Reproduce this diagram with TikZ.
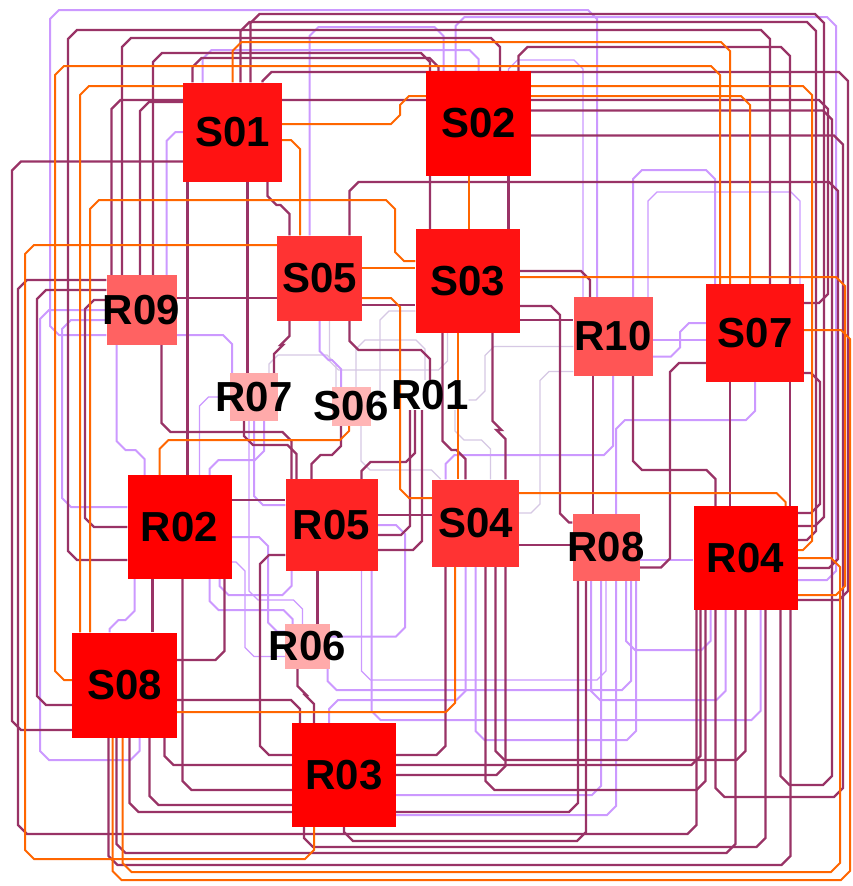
\documentclass[tikz,border=0pt]{standalone}
\usepackage{fontspec}
\setmainfont{Liberation Sans}
\usetikzlibrary{calc}
\pgfdeclarelayer{back}
\pgfdeclarelayer{lines}
\pgfsetlayers{back,lines,main}
\definecolor{mgc}{HTML}{993366}
\definecolor{orc}{HTML}{FF6600}
\definecolor{lpc}{HTML}{CC99FF}
\definecolor{grc}{HTML}{D6C8E4}
\definecolor{cA}{HTML}{FF0000}
\definecolor{cB}{HTML}{FF1212}
\definecolor{cC}{HTML}{FF2424}
\definecolor{cD}{HTML}{FF3333}
\definecolor{cE}{HTML}{FF5555}
\definecolor{cF}{HTML}{FF6262}
\definecolor{cG}{HTML}{FFAAAA}
\definecolor{cH}{HTML}{FFB5B5}
\tikzset{
  lnM/.style={draw=mgc,line width=2.3pt},
  lnO/.style={draw=orc,line width=2pt},
  lnP/.style={draw=lpc,line width=2pt},
  lnPt/.style={draw=lpc,line width=1.3pt},
  lnG/.style={draw=grc,line width=1.2pt},
  nbox/.style={draw=none,inner sep=0pt,minimum size=#1},
  lbl/.style={font=\fontsize{42}{42}\selectfont\bfseries,inner sep=0pt,text=black},
}
\newcommand\chd{9pt}
% vertical - horizontal - vertical
\newcommand\cVHV[4]{%
  \path #2 coordinate (q0) #4 coordinate (q3);
  \path (q0 |- 0,#3) coordinate (q1) (q3 |- 0,#3) coordinate (q2);
  \draw[#1] (q0) -- ($(q1)!\chd!(q0)$) -- ($(q1)!\chd!(q2)$) -- ($(q2)!\chd!(q1)$) -- ($(q2)!\chd!(q3)$) -- (q3);}
% horizontal - vertical - horizontal
\newcommand\cHVH[4]{%
  \path #2 coordinate (q0) #4 coordinate (q3);
  \path (#3,0 |- q0) coordinate (q1) (#3,0 |- q3) coordinate (q2);
  \draw[#1] (q0) -- ($(q1)!\chd!(q0)$) -- ($(q1)!\chd!(q2)$) -- ($(q2)!\chd!(q1)$) -- ($(q2)!\chd!(q3)$) -- (q3);}
% vertical then horizontal
\newcommand\cVH[3]{%
  \path #2 coordinate (q0) #3 coordinate (q3);
  \path (q0 |- q3) coordinate (q1);
  \draw[#1] (q0) -- ($(q1)!\chd!(q0)$) -- ($(q1)!\chd!(q3)$) -- (q3);}
% horizontal then vertical
\newcommand\cHV[3]{%
  \path #2 coordinate (q0) #3 coordinate (q3);
  \path (q3 |- q0) coordinate (q1);
  \draw[#1] (q0) -- ($(q1)!\chd!(q0)$) -- ($(q1)!\chd!(q3)$) -- (q3);}
% V to y, H to x, V, H into end
\newcommand\cVHVH[5]{%
  \path #2 coordinate (q0) #5 coordinate (q4);
  \path (q0 |- 0,#3) coordinate (q1) (#4,#3) coordinate (q2) (#4,0 |- q4) coordinate (q3);
  \draw[#1] (q0) -- ($(q1)!\chd!(q0)$) -- ($(q1)!\chd!(q2)$) -- ($(q2)!\chd!(q1)$) -- ($(q2)!\chd!(q3)$) -- ($(q3)!\chd!(q2)$) -- ($(q3)!\chd!(q4)$) -- (q4);}
% H to x, V to y, H, V into end
\newcommand\cHVHV[5]{%
  \path #2 coordinate (q0) #5 coordinate (q4);
  \path (#3,0 |- q0) coordinate (q1) (#3,#4) coordinate (q2) (q4 |- 0,#4) coordinate (q3);
  \draw[#1] (q0) -- ($(q1)!\chd!(q0)$) -- ($(q1)!\chd!(q2)$) -- ($(q2)!\chd!(q1)$) -- ($(q2)!\chd!(q3)$) -- ($(q3)!\chd!(q2)$) -- ($(q3)!\chd!(q4)$) -- (q4);}
\begin{document}
\begin{tikzpicture}[x=1pt,y=-1pt]
\useasboundingbox (0,0) rectangle (853,886);
\begin{pgfonlayer}{back}
\fill[white] (0,0) rectangle (853,886);
\end{pgfonlayer}
% ---------------- nodes ----------------
\node[nbox=99pt,fill=cB,label={[lbl]center:S01}] (S01) at (232.5,132) {};
\node[nbox=105pt,fill=cA,label={[lbl]center:S02}] (S02) at (478.5,123.5) {};
\node[nbox=104pt,fill=cB,label={[lbl]center:S03}] (S03) at (467.5,281) {};
\node[nbox=85pt,fill=cD,label={[lbl]center:S05}] (S05) at (319.5,278) {};
\node[nbox=70pt,fill=cF,label={[lbl]center:R09}] (R09) at (141.5,310) {};
\node[nbox=79pt,fill=cE,label={[lbl]center:R10}] (R10) at (613,336.5) {};
\node[nbox=98pt,fill=cB,label={[lbl]center:S07}] (S07) at (755,333) {};
\node[nbox=48pt,fill=cG,label={[lbl]center:R07}] (R07) at (254,397) {};
\node[nbox=39pt,fill=cH,label={[lbl]center:S06}] (S06) at (351,406.5) {};
\node[lbl] (R01) at (430,395) {R01};
\node[nbox=104pt,fill=cA,label={[lbl]center:R02}] (R02) at (179.5,527) {};
\node[nbox=92pt,fill=cC,label={[lbl]center:R05}] (R05) at (331.5,525) {};
\node[nbox=87pt,fill=cD,label={[lbl]center:S04}] (S04) at (475.5,523) {};
\node[nbox=67pt,fill=cF,label={[lbl]center:R08}] (R08) at (606,547.5) {};
\node[nbox=104pt,fill=cA,label={[lbl]center:R04}] (R04) at (745.5,558) {};
\node[nbox=45pt,fill=cG,label={[lbl]center:R06}] (R06) at (307.5,646.5) {};
\node[nbox=105pt,fill=cA,label={[lbl]center:S08}] (S08) at (124.5,685) {};
\node[nbox=104pt,fill=cA,label={[lbl]center:R03}] (R03) at (344,775) {};
% ---------------- connectors ----------------
\begin{pgfonlayer}{lines}
% thin grey
\cVHV{lnG}{([xshift=10pt]S05.south)}{370}{([xshift=-20pt]S03.south)}
\cHVH{lnG}{([yshift=-30pt]S03.west)}{380}{(S06.east)}
\cVHV{lnG}{([xshift=10pt]S06.south)}{470}{([xshift=-35pt]S04.north)}
\cHVH{lnG}{([yshift=-35pt]R10.west)}{540}{([yshift=10pt]S04.east)}
\cVHV{lnG}{([xshift=15pt]R07.north)}{355}{([xshift=-15pt]S06.north)}
\cVHV{lnG}{([xshift=5pt]S06.north)}{340}{([xshift=-5pt]R01.north)}
\cHVH{lnG}{([yshift=-5pt]R01.east)}{485}{([yshift=-10pt]R10.west)}
\cVHV{lnG}{([xshift=25pt]R01.south)}{440}{([xshift=15pt]S04.north)}
% thin light purple
\cVHV{lnPt}{([xshift=30pt]S02.north)}{60}{([xshift=-30pt]R10.north)}
\cHV{lnPt}{(R07.west)}{([xshift=20pt]R02.north)}
\cVHV{lnPt}{([xshift=30pt]R05.south)}{680}{(R08.south)}
\cVHV{lnPt}{([xshift=35pt]R10.north)}{192}{([xshift=45pt]S07.north)}
\cVHV{lnPt}{([xshift=-5pt]R07.south)}{600}{([xshift=-5pt]R06.north)}
\cHVH{lnPt}{([yshift=-10pt]R06.west)}{245}{([yshift=-35pt]R02.east)}
% light purple
\cHVHV{lnP}{([yshift=-25pt]R09.west)}{50}{10}{([xshift=-16pt]R10.north)}
\cVHVH{lnP}{([xshift=-23pt]S02.north)}{17}{836}{([yshift=-22pt]R04.east)}
\cVHV{lnP}{([xshift=-10pt]S05.north)}{27}{([xshift=-35pt]S02.north)}
\cVHV{lnP}{([xshift=-30pt]S01.north)}{50}{(S02.north)}
\cHVH{lnP}{([yshift=-10pt]R09.west)}{62}{([yshift=20pt]R02.west)}
\cVHV{lnP}{([xshift=-25pt]R09.south)}{450}{([xshift=-35pt]R02.north)}
\cVHV{lnP}{([xshift=30pt]R02.south)}{610}{([xshift=-15pt]R06.north)}
\cHVH{lnP}{([yshift=10pt]R06.east)}{405}{(R05.east)}
\cHV{lnP}{([yshift=-40pt]R03.east)}{([xshift=10pt]R08.south)}
\cHV{lnP}{([yshift=-20pt]R03.east)}{([xshift=-5pt]R08.south)}
\cVHV{lnP}{(S04.south)}{740}{([xshift=30pt]R08.south)}
\cVHV{lnP}{([xshift=-10pt]S04.south)}{700}{([xshift=-15pt]R03.north)}
\cHVHV{lnP}{(R09.west)}{40}{760}{([xshift=15pt]S08.south)}
\cHVH{lnP}{([yshift=-20pt]R10.east)}{680}{([yshift=10pt]S07.west)}
\cVHV{lnP}{(R10.south)}{455}{([xshift=-30pt]S04.north)}
\cVHV{lnP}{(S07.south)}{420}{([xshift=10pt]R08.north)}
\cVHV{lnP}{(S05.south)}{360}{([xshift=-10pt]S06.north)}
\cVHV{lnP}{([xshift=10pt]R07.south)}{460}{([xshift=30pt]R02.north)}
\cHV{lnP}{([yshift=20pt]R05.west)}{(R07.south)}
\cVHV{lnP}{([xshift=-15pt]R08.south)}{700}{([xshift=-20pt]R04.south)}
\cVHV{lnP}{([xshift=20pt]R08.south)}{650}{([xshift=-35pt]R04.south)}
\cVHV{lnP}{([xshift=40pt]R05.south)}{720}{([xshift=15pt]R04.south)}
\cVHV{lnP}{([xshift=-45pt]R02.south)}{620}{([xshift=-15pt]S08.north)}
\cHVH{lnP}{([yshift=-10pt]R02.east)}{268}{([yshift=15pt]R06.west)}
\cVHV{lnP}{([xshift=40pt]R02.south)}{595}{([xshift=-40pt]R05.south)}
\cHV{lnP}{(S01.west)}{([xshift=25pt]R09.north)}
\cVHV{lnP}{([xshift=20pt]R10.north)}{170}{([xshift=-40pt]S07.north)}
\cHV{lnP}{([yshift=-25pt]R09.east)}{([xshift=-22pt]R07.north)}
\cVHV{lnP}{([xshift=20pt]R06.south)}{690}{([xshift=25pt]R08.south)}
\draw[lnP] ([yshift=-3.5pt]R10.east) -- ([yshift=-7pt]S07.west);
\draw[lnP] ([yshift=-12.5pt]R08.east) -- ([yshift=-2pt]R04.west);
% magenta
\cVHVH{lnM}{([xshift=18pt]S01.north)}{14}{824}{([yshift=32pt]R04.east)}
\cVHVH{lnM}{([xshift=8pt]S01.north)}{22}{816}{([yshift=18pt]R04.east)}
\cHVHV{lnM}{([yshift=-33pt]R02.west)}{68}{30}{([xshift=15pt]S07.north)}
\cVHV{lnM}{([xshift=-19.5pt]R09.north)}{38}{([xshift=21.5pt]S02.north)}
\cVHV{lnM}{([xshift=11.5pt]R09.north)}{53}{([xshift=-37.5pt]S03.north)}
\cVHV{lnM}{([xshift=40pt]S02.north)}{47}{([xshift=35pt]S07.north)}
\cVHV{lnM}{([xshift=-40pt]S01.north)}{58}{([xshift=-40pt]S02.north)}
\cVHVH{lnM}{([xshift=-30pt]R09.north)}{100}{828}{([yshift=30pt]S07.east)}
\cVHVH{lnM}{([xshift=30pt]S01.north)}{72}{848}{([yshift=-42pt]R04.east)}
\cVHVH{lnM}{([xshift=30pt]S05.north)}{182}{838}{([yshift=-10pt]R04.east)}
\cHVHV{lnM}{([yshift=13pt]S02.east)}{832}{785}{([xshift=35pt]R04.south)}
\cHVHV{lnM}{([yshift=-12pt]S02.east)}{843}{797}{([xshift=-30pt]R04.south)}
\cHVH{lnM}{([yshift=-29.5pt]S01.west)}{12}{([yshift=-45pt]S08.west)}
\cHVH{lnM}{([yshift=20pt]R09.west)}{37}{([yshift=-20pt]S08.west)}
\cHVH{lnM}{(R02.west)}{85}{([yshift=10pt]R09.west)}
\draw[lnM] ([xshift=-45pt]S01.south) -- ([xshift=8pt]R02.north);
\draw[lnM] ([xshift=15pt]S01.south) -- ([xshift=-6.5pt]R07.north);
\cVHV{lnM}{([xshift=35pt]S01.south)}{205}{([xshift=-30pt]S05.north)}
\cVHV{lnM}{([xshift=20pt]R09.south)}{432}{([xshift=-40pt]R05.north)}
\draw[lnM] ([xshift=-27pt]R02.south) -- ([xshift=28pt]S08.north);
\cVH{lnM}{([xshift=3pt]R02.south)}{([yshift=-15pt]R03.west)}
\cHV{lnM}{([yshift=-15pt]S08.east)}{([xshift=-44pt]R03.north)}
\cHV{lnM}{([yshift=25pt]S08.east)}{([xshift=45pt]R02.south)}
\cVHV{lnM}{([xshift=-10pt]R06.south)}{695}{([xshift=-30pt]R03.north)}
\draw[lnM] ([xshift=10pt]R06.north) -- ([xshift=-14pt]R05.south);
\cVHV{lnM}{([xshift=-40pt]R03.south)}{847}{([xshift=20pt]R04.south)}
\cVHV{lnM}{(R03.south)}{841}{([xshift=-20pt]R08.south)}
\cHV{lnM}{([yshift=20pt]R03.east)}{([xshift=-30pt]S04.south)}
\cHV{lnM}{(R03.east)}{([xshift=30pt]S04.south)}
\cHVH{lnM}{([yshift=20pt]R03.west)}{260}{([yshift=-30pt]R05.west)}
\cVHV{lnM}{([xshift=10pt]S04.south)}{790}{([xshift=-40pt]R04.south)}
\cVHV{lnM}{([xshift=20pt]S04.south)}{760}{(R04.south)}
\cVHV{lnM}{([xshift=-16pt]S08.south)}{865}{([xshift=45pt]R04.south)}
\cVHV{lnM}{([xshift=-8pt]S08.south)}{853}{([xshift=-10pt]R04.south)}
\cVHV{lnM}{([xshift=5pt]S08.south)}{812}{([xshift=-28pt]R08.south)}
\cVH{lnM}{([xshift=25pt]S08.south)}{([yshift=-30pt]R03.west)}
\cVHV{lnM}{([xshift=40pt]S08.south)}{765}{([xshift=-45pt]R04.south)}
\cHVHV{lnM}{([yshift=30pt]R09.west)}{18}{834}{([xshift=-49pt]R04.south)}
\cVHV{lnM}{([xshift=-25pt]S03.south)}{450}{([xshift=-10pt]S04.north)}
\cVHV{lnM}{([xshift=25pt]S03.south)}{430}{([xshift=30pt]S04.north)}
\cHVH{lnM}{([yshift=-25pt]S03.east)}{560}{([yshift=25pt]R08.west)}
\cHV{lnM}{([yshift=10pt]S03.east)}{([xshift=-23pt]R10.north)}
\draw[lnM] ([xshift=-20pt]R10.south) -- ([xshift=-13pt]R08.north);
\cVHV{lnM}{([xshift=20pt]R10.south)}{470}{([xshift=-30pt]R04.north)}
\draw[lnM] ([xshift=35pt]S07.south) -- ([xshift=44.5pt]R04.north);
\draw[lnM] ([xshift=-25pt]S07.south) -- ([xshift=-15.5pt]R04.north);
\cHVH{lnM}{([yshift=-30pt]S07.west)}{670}{([yshift=-20pt]R08.east)}
\cVHV{lnM}{([xshift=-30pt]S05.south)}{345}{([xshift=20pt]R07.north)}
\cVHV{lnM}{([xshift=30pt]S05.south)}{350}{(R01.north)}
\cVHV{lnM}{([xshift=-10pt]S06.south)}{455}{([xshift=-20pt]R05.north)}
\cVHV{lnM}{([xshift=-10pt]R07.south)}{445}{([xshift=-35pt]R05.north)}
\cVHV{lnM}{([xshift=-15pt]R01.south)}{462}{([xshift=30pt]R05.north)}
\cHV{lnM}{([yshift=-10pt]R05.east)}{([xshift=-20pt]R01.south)}
\cHV{lnM}{([yshift=-25pt]R05.east)}{([xshift=-8pt]R01.south)}
\cHVH{lnM}{([yshift=-40pt]S07.east)}{820}{([yshift=45pt]R04.east)}
\cHV{lnM}{([yshift=30pt]S01.west)}{([xshift=-1.5pt]R09.north)}
\draw[lnM] ([xshift=30pt]S02.south) -- ([xshift=41pt]S03.north);
\draw[lnM] ([yshift=12pt]R09.east) -- ([yshift=-20pt]S05.west);
\draw[lnM] ([yshift=-27pt]S05.east) -- ([yshift=-24pt]S03.west);
\draw[lnM] ([yshift=-39pt]S03.east) -- ([yshift=16.5pt]R10.west);
\draw[lnM] ([yshift=10pt]R05.east) -- ([yshift=8pt]S04.west);
\draw[lnM] ([yshift=-22pt]S04.east) -- ([yshift=2.5pt]R08.west);
\draw[lnM] ([yshift=27pt]R02.east) -- ([yshift=25pt]R05.west);
% orange
\cVHV{lnO}{(S01.north)}{42}{([xshift=-25pt]S07.north)}
\cHVHV{lnO}{([yshift=5pt]S08.west)}{55}{66}{([xshift=-35pt]S07.north)}
\cHV{lnO}{([yshift=46pt]S01.west)}{([xshift=-44.5pt]S08.north)}
\cHVH{lnO}{([yshift=37.5pt]S02.east)}{812}{([yshift=8pt]R04.east)}
\cVHVH{lnO}{([xshift=-34.5pt]S08.north)}{200}{395}{([yshift=20pt]S03.west)}
\cHVHV{lnO}{([yshift=33pt]S05.west)}{25}{859}{([xshift=-30pt]R03.south)}
\cHVHV{lnO}{([yshift=8pt]S01.east)}{400}{96}{([xshift=-5pt]S07.north)}
\cHVH{lnO}{([yshift=4pt]S03.east)}{845}{([yshift=-37pt]R04.east)}
\cHVHV{lnO}{([yshift=3pt]S07.east)}{850}{880}{([xshift=-12pt]S08.south)}
\cVHVH{lnO}{([xshift=-2pt]S08.south)}{872}{840}{(R04.east)}
\cHV{lnO}{([yshift=-8pt]S01.east)}{([xshift=-19.5pt]S05.north)}
\cHV{lnO}{([yshift=-27pt]S08.east)}{([xshift=-20.5pt]S04.south)}
\draw[lnO] ([xshift=-10pt]S03.south) -- ([xshift=-18pt]S04.north);
\cHV{lnO}{([yshift=30pt]S04.east)}{([xshift=40pt]R04.north)}
\cHVH{lnO}{([yshift=-20pt]S05.east)}{400}{([yshift=25pt]S04.west)}
\cVHV{lnO}{([xshift=-2pt]S06.south)}{440}{([xshift=-20pt]R02.north)}
\draw[lnO] ([xshift=-10pt]S02.south) -- ([xshift=1pt]S03.north);
\draw[lnO] ([yshift=10pt]S05.east) -- ([yshift=13pt]S03.west);
\end{pgfonlayer}
\end{tikzpicture}
\end{document}
